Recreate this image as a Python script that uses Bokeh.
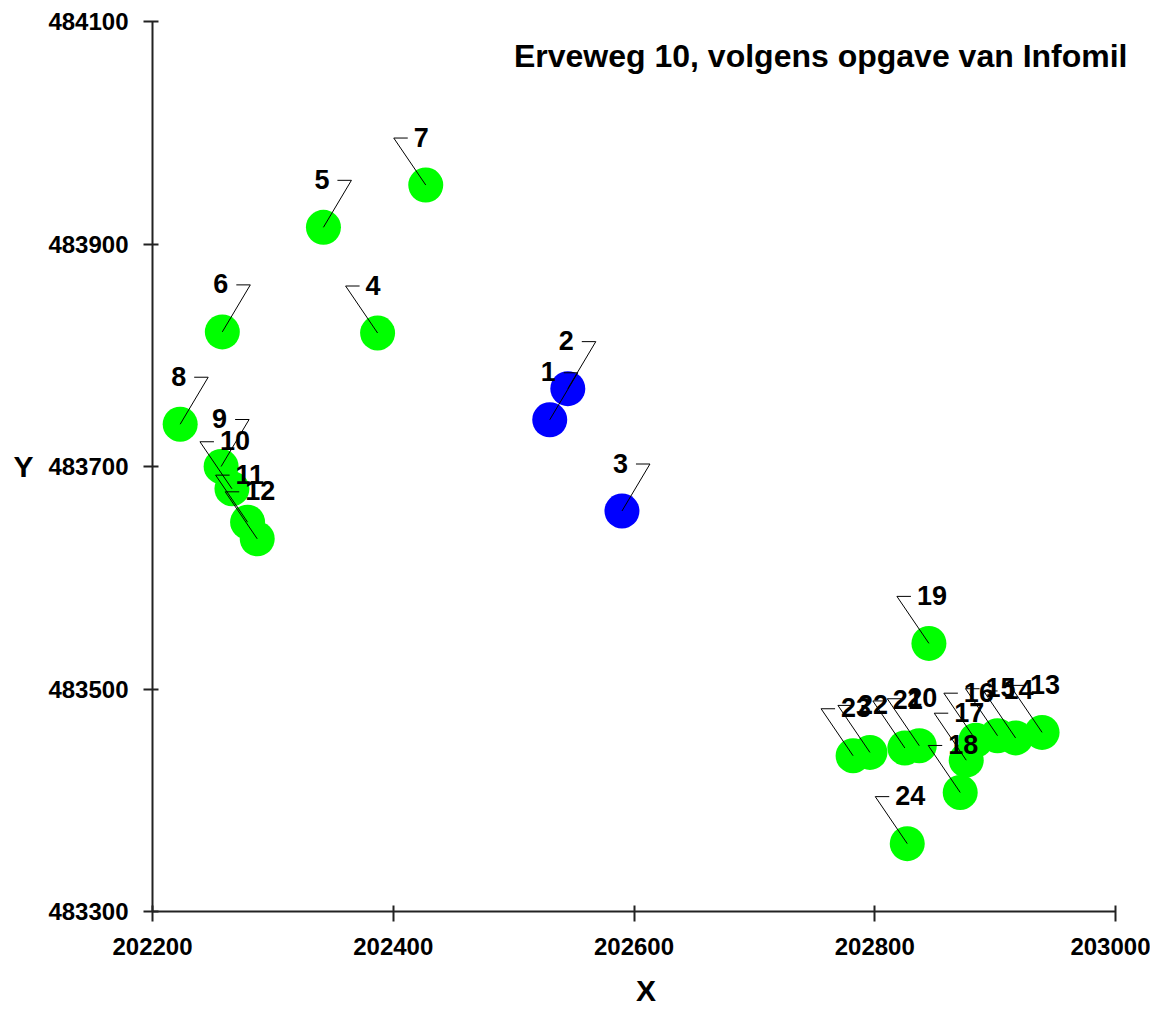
from bokeh.plotting import figure
from bokeh.models import Range1d, FixedTicker, Label, ColumnDataSource, BasicTickFormatter
from bokeh.embed import file_html
from bokeh.resources import INLINE

# ---- data ----
XMIN, XMAX = 202200, 203000
YMIN, YMAX = 483300, 484100
x_ticks = [202200, 202400, 202600, 202800, 203000]
y_ticks = [483300, 483500, 483700, 483900, 484100]

ids = [str(i) for i in range(1, 25)]
x_vals = [202530, 202545, 202590, 202387, 202342, 202258, 202427, 202223,
          202257, 202266, 202279, 202287, 202939, 202917, 202902, 202884,
          202876, 202871, 202845, 202837, 202825, 202796, 202782, 202827]
y_vals = [483742, 483770, 483660, 483820, 483915, 483821, 483953, 483738,
          483700, 483680, 483650, 483635, 483461, 483456, 483458, 483454,
          483436, 483407, 483541, 483449, 483447, 483443, 483440, 483361]
group = ["blue"] * 3 + ["green"] * 21
# label side: "L" = label left of its bracket, "R" = label right of its bracket
side = ["L", "L", "L", "R", "L", "L", "R", "L", "L", "R", "R", "R"] + ["R"] * 12

title_text = "Erveweg 10, volgens opgave van Infomil"
FONT = "Liberation Sans"

# ---- layout ----
AXW, FH = 963, 890          # pixel length of the drawn axes
EXTRA = 24                  # frame room right of the x axis for the title
W, H = 1150, 1011
LEFT, TOP = 152, 21
sx = AXW / (XMAX - XMIN)
sy = FH / (YMAX - YMIN)
FW = AXW + EXTRA

colors = {"blue": "#0000FF", "green": "#00FF00"}

p = figure(width=W, height=H,
           x_range=Range1d(XMIN, XMAX + EXTRA / sx), y_range=Range1d(YMIN, YMAX),
           output_backend="svg", toolbar_location=None,
           min_border_left=LEFT, min_border_right=W - LEFT - FW,
           min_border_top=TOP, min_border_bottom=H - TOP - FH)
p.grid.visible = False
p.outline_line_color = None
p.background_fill_color = "white"
p.border_fill_color = "white"

p.scatter(x=x_vals, y=y_vals, size=35, marker="circle",
          fill_color=[colors[g] for g in group], line_color=None)

# leader lines and labels
line_xs, line_ys = [], []
lt = {"x": [], "y": [], "t": []}
rt = {"x": [], "y": [], "t": []}
for x, y, s, t in zip(x_vals, y_vals, side, ids):
    ly = y + 47 / sy
    if s == "L":
        cx, bx, tx = x + 28 / sx, x + 14 / sx, x + 6 / sx
        d = lt
    else:
        cx, bx, tx = x - 32 / sx, x - 18 / sx, x - 12 / sx
        d = rt
    line_xs.append([x, cx, bx])
    line_ys.append([y, ly, ly])
    d["x"].append(tx)
    d["y"].append(y + 48 / sy)
    d["t"].append(t)

p.multi_line(xs=line_xs, ys=line_ys, line_color="black", line_width=1)
p.text(x="x", y="y", text="t", source=ColumnDataSource(lt), text_align="right",
       text_baseline="middle", text_font={"value": FONT}, text_font_style="bold",
       text_font_size="27px", text_color="black")
p.text(x="x", y="y", text="t", source=ColumnDataSource(rt), text_align="left",
       text_baseline="middle", text_font={"value": FONT}, text_font_style="bold",
       text_font_size="27px", text_color="black")

# axes
for ax in (p.xaxis[0], p.yaxis[0]):
    ax.formatter = BasicTickFormatter(use_scientific=False)
    ax.major_label_text_font = FONT
    ax.major_label_text_font_style = "bold"
    ax.major_label_text_font_size = "24px"
    ax.major_label_text_color = "black"
    ax.axis_line_color = "#222222"
    ax.axis_line_width = 2
    ax.major_tick_line_color = "#222222"
    ax.major_tick_line_width = 2
    ax.minor_tick_line_color = None
    ax.axis_label_text_font = FONT
    ax.axis_label_text_font_style = "bold"
    ax.axis_label_text_font_size = "30px"
    ax.axis_label_text_color = "black"

p.xaxis[0].bounds = (XMIN, XMAX)
p.xaxis[0].ticker = FixedTicker(ticks=x_ticks)
p.yaxis[0].ticker = FixedTicker(ticks=y_ticks)
p.xaxis[0].major_tick_in = 6
p.xaxis[0].major_tick_out = 10
p.yaxis[0].major_tick_in = 6
p.yaxis[0].major_tick_out = 9
p.xaxis[0].major_label_standoff = 16
p.yaxis[0].major_label_standoff = 15
p.xaxis[0].axis_label = "X"
p.yaxis[0].axis_label = "Y"
p.yaxis[0].axis_label_orientation = "horizontal"
p.xaxis[0].axis_label_standoff = 16
p.yaxis[0].axis_label_standoff = 12

p.add_layout(Label(x=AXW + 12, y=FH - 34, x_units="screen", y_units="screen", text=title_text,
                   text_align="right", text_baseline="middle", text_font=FONT,
                   text_font_style="bold", text_font_size="32px", text_color="black"))

open("out.html", "w").write(file_html(p, INLINE))
